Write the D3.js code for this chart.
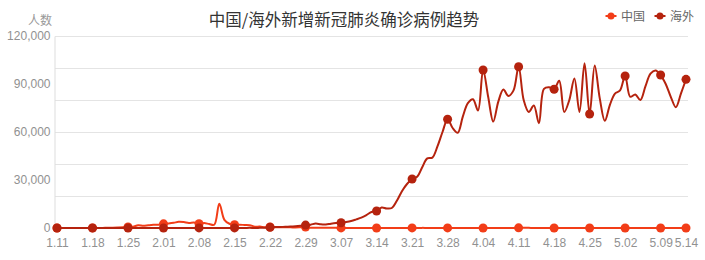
<!DOCTYPE html>
<html>
<head>
<meta charset="utf-8">
<script src="https://cdn.jsdelivr.net/npm/d3@7"></script>
<style>
  body { margin: 0; background: #fff; }
  svg { display: block; }
  text { font-family: "Liberation Sans", "Noto Sans CJK SC", sans-serif; }
</style>
</head>
<body>
<svg width="705" height="260"></svg>
<script>
// daily cases 2020-01-11 .. 2020-05-14
var tickLabels = ["1.11", "1.18", "1.25", "2.01", "2.08", "2.15", "2.22", "2.29", "3.07",
  "3.14", "3.21", "3.28", "4.04", "4.11", "4.18", "4.25", "5.02", "5.09", "5.14"];

var china = [
  // Jan 11-31
  0, 0, 0, 0, 0, 4, 17, 59, 77, 77, 149, 131, 259, 444, 688, 769, 1771, 1459, 1737, 1982, 2102,
  // Feb
  2590, 2829, 3235, 3887, 3694, 3143, 3385, 2652, 3062, 2478, 2015, 15152, 5090, 2641, 2009,
  2048, 1886, 1749, 820, 889, 397, 648, 409, 508, 406, 433, 327, 427, 573,
  // Mar
  202, 125, 119, 139, 143, 99, 44, 40, 19, 24, 15, 8, 11, 20, 16, 21, 13, 34, 39, 41,
  46, 39, 78, 47, 67, 55, 54, 45, 31, 48, 36,
  // Apr
  35, 31, 19, 30, 39, 32, 62, 63, 42, 46, 99, 108, 89, 46, 64, 26, 30, 27, 16, 12,
  11, 30, 10, 11, 12, 11, 3, 22, 4, 3,
  // May 1-14
  12, 1, 2, 1, 2, 2, 4, 1, 1, 17, 5, 1, 3, 4
];

var overseas = [
  // Jan 11-31
  0, 0, 1, 0, 0, 1, 1, 0, 0, 3, 2, 4, 6, 10, 7, 9, 10, 14, 12, 20, 25,
  // Feb
  10, 15, 18, 15, 20, 30, 25, 40, 60, 30, 20, 40, 30, 60, 50, 70, 60, 80, 40, 100,
  150, 400, 550, 600, 800, 900, 1100, 1400, 1800,
  // Mar
  2100, 2800, 2300, 2200, 2700, 3100, 3300, 3750, 4400, 5400, 6500, 8100, 10000, 10600,
  12800, 12200, 12500, 17000, 23000, 27500, 30600, 32000, 38000, 43500, 44000, 51000,
  60000, 68000, 62500, 59500, 69600,
  // Apr
  78000, 80500, 73500, 98750, 82000, 66500, 79000, 86500, 82500, 86000, 100800, 80000,
  72500, 76500, 65500, 87000, 88000, 86700, 92000, 72500, 80000, 93500, 72500, 103000,
  71250, 101500, 81000, 67000, 77000, 84000,
  // May 1-14
  86000, 95000, 82000, 83500, 80000, 88500, 96500, 98500, 95600, 90000, 82000, 75500,
  84000, 92900
];

var seriesNames = ["中国", "海外"];
var colors = ["#f23d18", "#b5230e"];

var fmtDay = d3.timeFormat("%-m.%d");
var dates = d3.timeDay.range(new Date(2020, 0, 11), new Date(2020, 4, 15)).map(fmtDay);

var svg = d3.select("svg");

var x = d3.scalePoint().domain(dates).range([57, 686]);
var y = d3.scaleLinear().domain([0, 120000]).range([228, 36]);

// title
svg.append("text")
  .attr("x", 344).attr("y", 26)
  .attr("text-anchor", "middle")
  .style("font-family", "'Noto Sans CJK SC', sans-serif")
  .style("font-size", "16.5px")
  .style("fill", "#333")
  .text("中国/海外新增新冠肺炎确诊病例趋势");

// y unit
svg.append("text")
  .attr("x", 52).attr("y", 25)
  .attr("text-anchor", "end")
  .style("font-family", "'Noto Sans CJK SC', sans-serif")
  .style("font-size", "12px")
  .style("fill", "#999")
  .text("人数");

// grid
svg.append("g")
  .selectAll("line")
  .data(y.ticks(4).filter(function (d) { return d > 0; }))
  .enter().append("line")
  .attr("x1", 55).attr("x2", 688)
  .attr("y1", function (d) { return y(d) + 0.5; })
  .attr("y2", function (d) { return y(d) + 0.5; })
  .attr("stroke", "#e4e4e4");

var yAxis = svg.append("g")
  .attr("transform", "translate(54.5,0)")
  .call(d3.axisLeft(y).tickValues([0, 30000, 60000, 90000, 120000])
    .tickFormat(d3.format(",")).tickSize(0).tickPadding(4));
yAxis.select(".domain").attr("stroke", "#ddd");
yAxis.selectAll("text").style("font-size", "12px").style("fill", "#919191")
  .style("font-family", "'Liberation Sans', sans-serif");

var xAxis = svg.append("g")
  .attr("transform", "translate(0,228)")
  .call(d3.axisBottom(x).tickValues(tickLabels).tickSize(0).tickPadding(10));
xAxis.select(".domain").remove();
xAxis.selectAll("text").style("font-size", "12px").style("fill", "#919191")
  .style("font-family", "'Liberation Sans', sans-serif");

var line = d3.line()
  .x(function (d, i) { return x(dates[i]); })
  .y(function (d) { return y(d); })
  .curve(d3.curveCatmullRom.alpha(0.5));

[china, overseas].forEach(function (vals, k) {
  var g = svg.append("g");
  g.append("path")
    .datum(vals)
    .attr("d", line)
    .attr("fill", "none")
    .attr("stroke", colors[k])
    .attr("stroke-width", 2);
  g.selectAll("circle")
    .data(vals.map(function (v, i) { return { v: v, d: dates[i] }; })
      .filter(function (p) { return tickLabels.indexOf(p.d) >= 0; }))
    .enter().append("circle")
    .attr("cx", function (p) { return x(p.d); })
    .attr("cy", function (p) { return y(p.v); })
    .attr("r", 4.5)
    .attr("fill", colors[k]);
});

// legend
var legend = svg.append("g");
var lx = [611, 660];
seriesNames.forEach(function (name, k) {
  var item = legend.append("g").attr("transform", "translate(" + lx[k] + ",16)");
  item.append("line").attr("x1", -5.5).attr("x2", 5.5)
    .attr("stroke", colors[k]).attr("stroke-width", 2);
  item.append("circle").attr("r", 3.5).attr("fill", colors[k]);
  item.append("text")
    .attr("x", 10).attr("y", 4.5)
    .style("font-family", "'Noto Sans CJK SC', sans-serif")
    .style("font-size", "12px")
    .style("fill", "#666")
    .text(name);
});
</script>
</body>
</html>
